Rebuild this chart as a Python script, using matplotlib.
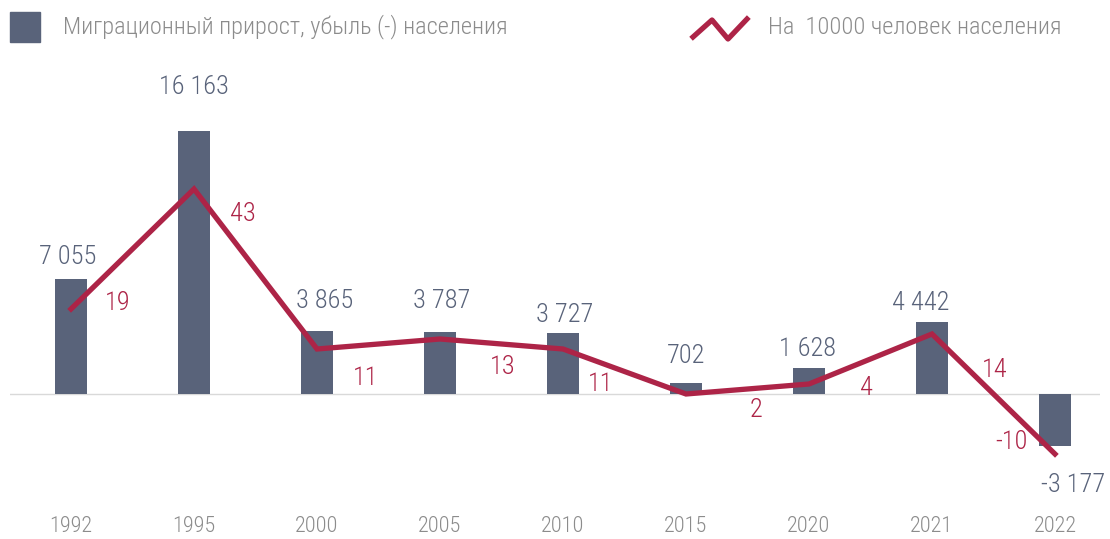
import matplotlib
matplotlib.use("Agg")
import matplotlib.pyplot as plt
from matplotlib.patches import Rectangle
from matplotlib.lines import Line2D
from matplotlib import font_manager

years = ["1992", "1995", "2000", "2005", "2010", "2015", "2020", "2021", "2022"]
migration = [7055, 16163, 3865, 3787, 3727, 702, 1628, 4442, -3177]
per_10000 = [19, 43, 11, 13, 11, 2, 4, 14, -10]

bar_label_offsets = [(-3, 22), (0, 44), (8, 30), (2, 31), (2, 18), (0, 27), (-1, 19), (-11, 19), (18, -39)]
line_label_offsets = [(47, 6), (49, -25), (49, -29), (63, -28), (38, -35), (70, -16), (57, -4), (63, -36), (-44, 12)]

avail = {f.name for f in font_manager.fontManager.ttflist}
FONT = "DejaVu Sans"
for cand in ["Roboto Condensed", "PT Sans Narrow", "Fira Sans Condensed", "Archivo Narrow", "Liberation Sans Narrow", "Roboto"]:
    if cand in avail:
        FONT = cand
        break
plt.rcParams['font.family'] = [FONT, 'DejaVu Sans']
plt.rcParams['font.weight'] = 'light'

BAR = "#59637a"
LINE = "#ad2447"
GRAY = "#8c8c8c"

W, H = 1110, 539
fig = plt.figure(figsize=(W / 100, H / 100), dpi=100)
ax = fig.add_axes([10 / W, (H - 505) / H, 1090 / W, 445 / H])
x = list(range(len(years)))
ax.bar(x, migration, width=0.26, color=BAR, zorder=2)
ax.set_xlim(-0.496, 8.366)
upp = 1 / 0.01627
ax.set_ylim(-111 * upp, 334 * upp)
ax.axhline(0, color="#d9d9d9", lw=1, zorder=1)
for s in ax.spines.values():
    s.set_visible(False)
ax.set_yticks([])
ax.set_xticks(x)
ax.set_xticklabels(years, fontsize=16, color=GRAY)
ax.tick_params(axis='x', length=0, pad=8)

for i, v in enumerate(migration):
    dx, dy = bar_label_offsets[i]
    txt = f"{v:,}".replace(",", " ")
    ax.annotate(txt, (i, v), xytext=(dx, dy), textcoords='offset pixels',
                ha='center', va='center', fontsize=19, color=BAR, zorder=5)

ax2 = ax.twinx()
ax2.set_ylim(-20.2, 68.8)
ax2.plot(x, per_10000, color=LINE, lw=3.8, solid_joinstyle='miter', zorder=3)
ax2.set_yticks([])
for s in ax2.spines.values():
    s.set_visible(False)
for i, v in enumerate(per_10000):
    dx, dy = line_label_offsets[i]
    ax2.annotate(str(v), (i, v), xytext=(dx, dy), textcoords='offset pixels',
                 ha='center', va='center', fontsize=19, color=LINE, zorder=2)

fig.patches.append(Rectangle((10 / W, (H - 42) / H), 30 / W, 30 / H,
                             transform=fig.transFigure, color=BAR))
fig.text(63 / W, (H - 27) / H, "Миграционный прирост, убыль (-) населения",
         fontsize=17.6, color=GRAY, va='center', ha='left')
lx = [693, 712, 728, 747]
ly = [37, 20, 39, 19]
fig.lines.append(Line2D([v / W for v in lx], [(H - v) / H for v in ly],
                        transform=fig.transFigure, color=LINE, lw=3.8))
fig.text(768 / W, (H - 27) / H, "На  10000 человек населения",
         fontsize=17.6, color=GRAY, va='center', ha='left')

fig.savefig("out.png", dpi=100)
